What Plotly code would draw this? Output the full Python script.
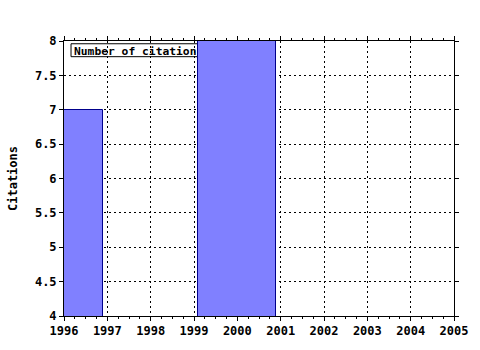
import plotly.graph_objects as go

years = [1996, 2000]
citations = [7, 8]
x_ticks = list(range(1996, 2006))
y_ticks = [4, 4.5, 5, 5.5, 6, 6.5, 7, 7.5, 8]
y_tick_labels = ["4", "4.5", "5", "5.5", "6", "6.5", "7", "7.5", "8"]
legend_text = "Number of citations"

font_main = dict(family="DejaVu Sans Mono", size=12, color="black", weight="bold")
font_legend = dict(family="DejaVu Sans Mono", size=11.3, color="black", weight="bold")

fig = go.Figure()
fig.add_trace(go.Bar(
    x=years, y=citations, width=1.8,
    marker=dict(color="#8080ff", line=dict(color="#00008b", width=1)),
    showlegend=False,
))

axis_common = dict(
    showline=True, linecolor="black", linewidth=1, mirror="ticks",
    ticks="outside", ticklen=4, tickcolor="black",
    showgrid=True, gridcolor="black", griddash="2px,3px", gridwidth=1,
    zeroline=False, tickfont=font_main,
)

fig.update_xaxes(
    range=[1996, 2005], tickmode="array", tickvals=x_ticks,
    ticktext=[str(v) for v in x_ticks],
    minor=dict(dtick=0.25, ticks="outside", ticklen=2, tickcolor="black", showgrid=False),
    **axis_common,
)
fig.update_yaxes(
    range=[4, 8], tickmode="array", tickvals=y_ticks, ticktext=y_tick_labels,
    title=dict(text="Citations", font=font_main, standoff=14),
    **axis_common,
)

fig.add_shape(
    type="rect", xref="paper", yref="paper",
    x0=0.018, x1=0.35, y0=0.943, y1=0.99,
    line=dict(color="black", width=1), fillcolor="white", layer="between",
    label=dict(text=legend_text, font=font_legend, textposition="middle left", padding=0),
)

fig.update_layout(
    width=480, height=350,
    margin=dict(l=64, r=21, t=41, b=30),
    paper_bgcolor="white", plot_bgcolor="white",
    font=font_main, bargap=0,
)

fig.write_html("out.html")
